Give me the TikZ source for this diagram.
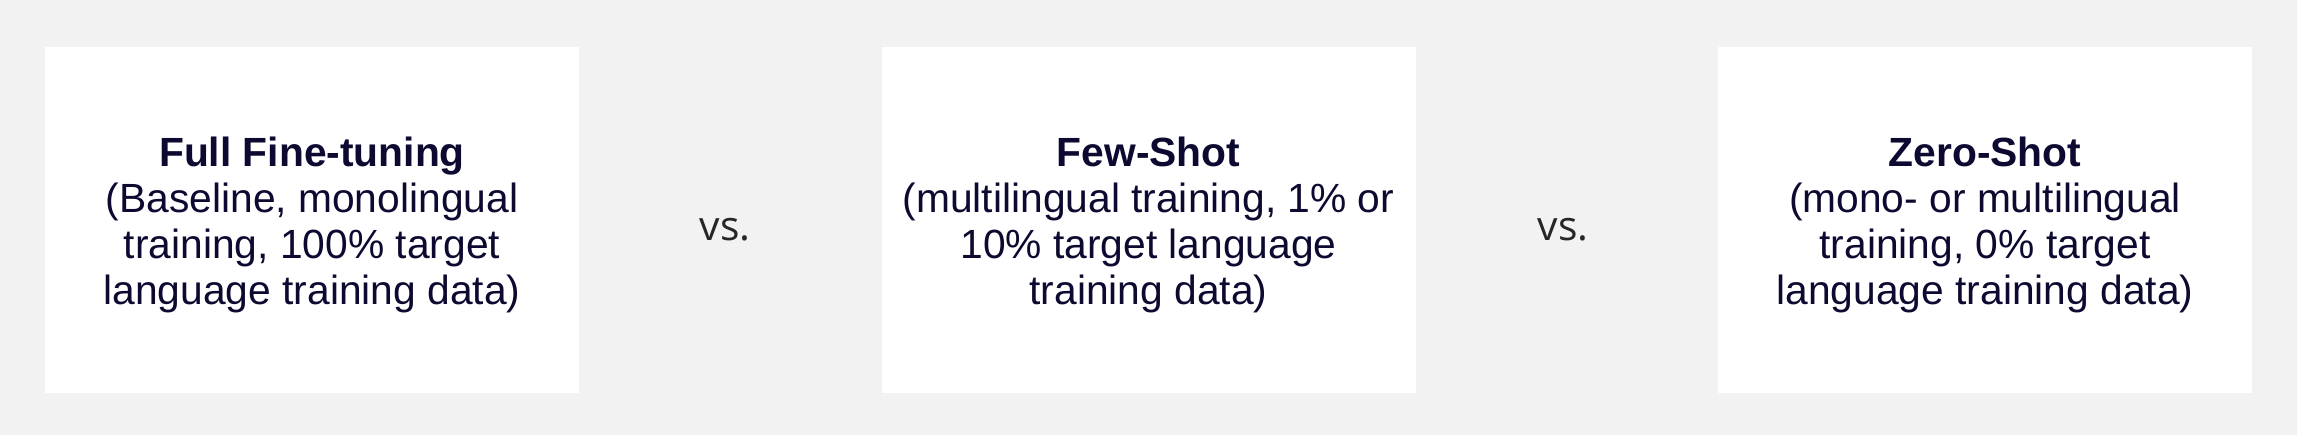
\documentclass[tikz,border=0pt]{standalone}
\usepackage{fontspec}
\setmainfont{Liberation Sans}
\newfontfamily\vsfont{Open Sans}
\usetikzlibrary{positioning}

\definecolor{bgGrey}{RGB}{242,242,242}
\definecolor{inkNavy}{RGB}{12,10,48}
\definecolor{vsGrey}{RGB}{38,38,38}

\tikzset{
  setupbox/.style={fill=white, minimum width=5.34cm, minimum height=3.46cm, inner sep=0pt},
  setuptext/.style={align=center, text=inkNavy, font=\fontsize{11.6}{13.05}\selectfont},
  vslabel/.style={text=vsGrey, font=\vsfont\fontsize{11.6}{13}\selectfont}
}

\begin{document}
\begin{tikzpicture}
\fill[bgGrey] (0,0) rectangle (22.97,4.35);
\useasboundingbox (0,0) rectangle (22.97,4.35);

% the three training setups
\node[setupbox] (full) at (3.12,2.15) {};
\node[setupbox] (few) at (11.485,2.15) {};
\node[setupbox] (zero) at (19.85,2.15) {};

\node[setuptext] (fullTxt) at ([yshift=-0.05cm]full.center) {\textbf{Full Fine-tuning}\\(Baseline, monolingual\\training, 100\% target\\language training data)};
\node[setuptext] (fewTxt) at ([yshift=-0.05cm]few.center) {\textbf{Few-Shot}\\(multilingual training, 1\% or\\10\% target language\\training data)};
\node[setuptext] (zeroTxt) at ([yshift=-0.05cm]zero.center) {\textbf{Zero-Shot}\\(mono- or multilingual\\training, 0\% target\\language training data)};

\node[vslabel] (vsA) at (7.25,2.05) {vs.};
\node[vslabel] (vsB) at (15.63,2.05) {vs.};
\end{tikzpicture}
\end{document}
